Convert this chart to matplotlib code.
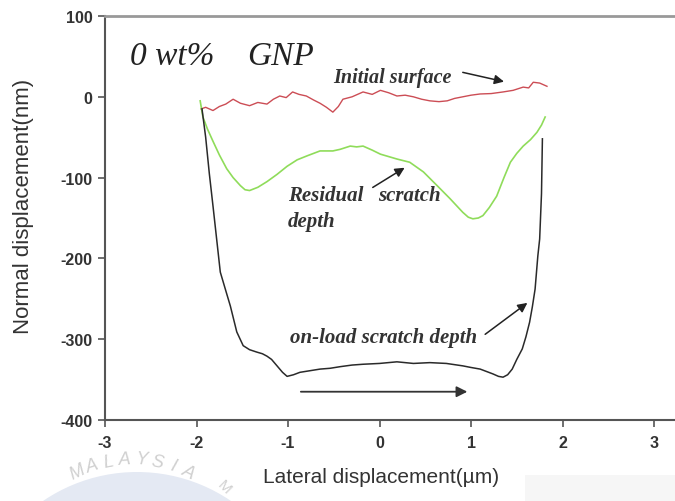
import numpy as np
import matplotlib.pyplot as plt
from matplotlib.patches import Ellipse, Rectangle

# curve data (x in um, y in nm)
x_init = [-1.95, -1.90, -1.82, -1.75, -1.68, -1.60, -1.52, -1.42, -1.33, -1.23, -1.16, -1.09,
          -1.02, -0.95, -0.88, -0.80, -0.72, -0.65, -0.58, -0.51, -0.45, -0.40, -0.30, -0.18,
          -0.08, 0.01, 0.10, 0.19, 0.28, 0.37, 0.46, 0.55, 0.65, 0.74, 0.82, 0.91, 1.00,
          1.10, 1.22, 1.35, 1.46, 1.57, 1.63, 1.68, 1.75, 1.83]
y_init = [-15, -13, -17, -12, -9, -3, -8, -11, -7, -9, -3, 1,
          -1, 6, 3, 1, -4, -8, -13, -19, -12, -3, 0, 6,
          3, 8, 5, 1, 2, 0, -3, -5, -6, -5, -2, 0, 2,
          3.5, 4, 6, 8, 12, 11, 18, 17, 13]

x_resid = [-1.96, -1.93, -1.88, -1.82, -1.75, -1.67, -1.60, -1.52, -1.47, -1.42, -1.33, -1.23,
           -1.12, -1.01, -0.90, -0.79, -0.65, -0.51, -0.43, -0.32, -0.25, -0.18, -0.08, 0.01,
           0.10, 0.19, 0.33, 0.48, 0.63, 0.77, 0.91, 0.97, 1.02, 1.08, 1.13, 1.20, 1.28,
           1.36, 1.43, 1.50, 1.57, 1.65, 1.72, 1.77, 1.81]
y_resid = [-5, -25, -40, -55, -72, -89, -100, -110, -115, -116, -112, -105,
           -96, -86, -78, -73, -67, -67, -65, -61, -62, -61, -66, -71,
           -74, -77, -81, -93, -110, -126, -143, -149, -151, -150, -147, -137, -123,
           -100, -81, -70, -61, -53, -44, -35, -25]

x_load = [-1.94, -1.90, -1.86, -1.82, -1.78, -1.74, -1.68, -1.63, -1.56, -1.49, -1.42, -1.34,
          -1.28, -1.23, -1.18, -1.12, -1.06, -1.01, -0.94, -0.87, -0.76, -0.65, -0.54, -0.43,
          -0.30, -0.18, 0.00, 0.19, 0.37, 0.55, 0.73, 0.91, 1.00, 1.10, 1.17, 1.24, 1.30,
          1.35, 1.40, 1.45, 1.50, 1.56, 1.60, 1.64, 1.67, 1.70, 1.73, 1.75, 1.77, 1.78]
y_load = [-15, -50, -95, -135, -176, -217, -240, -259, -291, -308, -313, -316,
          -318, -321, -325, -333, -341, -346, -344, -341, -339, -337, -336, -334,
          -332, -331, -330, -328, -330, -329, -330, -333, -335, -337, -340, -343, -346,
          -347, -344, -337, -325, -312, -297, -279, -260, -238, -197, -176, -120, -52]

xticks = [-3, -2, -1, 0, 1, 2, 3]
yticks = [100, 0, -100, -200, -300, -400]

plt.rcParams['font.family'] = 'Liberation Sans'
plt.rcParams['axes.unicode_minus'] = False

fig = plt.figure(figsize=(6.75, 5.02), dpi=100)

# faint watermark at the bottom left (drawn behind everything)
fig.patches.append(Ellipse((137/675, 1 - 640/502), 334/675, 334/502, transform=fig.transFigure,
                           facecolor='#e4e9f3', edgecolor='none', zorder=0))
fig.patches.append(Rectangle((525/675, 0), 150/675, 26/502, transform=fig.transFigure,
                             facecolor='#f6f6f6', edgecolor='none', zorder=0))
cx, cy, r = 133, 587, 127
for i, ch in enumerate('MALAYSIA'):
    th = np.deg2rad(116 - i * 7.4)
    px = cx + r * np.cos(th)
    py = cy - r * np.sin(th)
    fig.text(px/675, 1 - py/502, ch, fontsize=13, color='#d0d0d0', ha='center', va='center',
             rotation=np.rad2deg(th) - 90, fontstyle='italic')
fig.text(224/675, 1 - 488/502, 'M', fontsize=11, color='#d0d0d0', ha='center', va='center',
         rotation=-45)

ax = fig.add_axes([105/675, 1 - 421/502, 576.5/675, 404/502])
ax.patch.set_alpha(0)

ax.plot(x_init, y_init, color='#cc4d55', lw=1.0)
ax.plot(x_resid, y_resid, color='#8fdc5a', lw=1.2)
ax.plot(x_load, y_load, color='#2a2a2a', lw=1.1)

ax.set_xlim(-3, 3.3)
ax.set_ylim(-400, 100)
ax.set_xticks(xticks)
ax.set_yticks(yticks)
ax.tick_params(direction='out', length=5, width=1.2, colors='#555555',
               labelcolor='#333333', labelsize=11.5)
ax.tick_params(axis='x', pad=6)
ax.tick_params(axis='y', pad=4)
for lab in ax.get_xticklabels() + ax.get_yticklabels():
    lab.set_fontweight('bold')
for s in ['left', 'bottom']:
    ax.spines[s].set_color('#555555')
    ax.spines[s].set_linewidth(1.5)
ax.spines['top'].set_color('#999999')
ax.spines['top'].set_linewidth(2)
ax.spines['right'].set_visible(False)

fig.text(24/675, 1 - 206/502, 'Normal displacement(nm)', fontsize=16, color='#333333',
         ha='center', va='center', rotation=90)
fig.text(381/675, 1 - 478/502, 'Lateral displacement(\u00b5m)', fontsize=15,
         color='#333333', ha='center', va='center')

serif = 'Liberation Serif'
ax.text(-2.73, 41, '0 wt%', family=serif, style='italic', fontsize=24, color='#222222')
ax.text(-1.45, 41, 'GNP', family=serif, style='italic', fontsize=24, color='#222222')
ax.text(-0.51, 24, 'Initial surface', family=serif, style='italic', weight='bold',
        fontsize=14.5, color='#333333', va='center')
ax.annotate('', xy=(1.39, 18), xytext=(0.88, 31),
            arrowprops=dict(arrowstyle='-|>', color='#222222', lw=1.1, mutation_scale=14))
ax.text(-1.0, -121, 'Residual', family=serif, style='italic', weight='bold',
        fontsize=15, color='#333333', va='center')
ax.text(-0.02, -121, 'scratch', family=serif, style='italic', weight='bold',
        fontsize=15, color='#333333', va='center')
ax.text(-1.0, -154, 'depth', family=serif, style='italic', weight='bold',
        fontsize=15, color='#333333', va='center')
ax.annotate('', xy=(0.30, -86), xytext=(-0.10, -114),
            arrowprops=dict(arrowstyle='-|>', color='#222222', lw=1.1, mutation_scale=14))
ax.text(-0.98, -297, 'on-load scratch depth', family=serif, style='italic', weight='bold',
        fontsize=15, color='#333333', va='center')
ax.annotate('', xy=(1.64, -253), xytext=(1.13, -296),
            arrowprops=dict(arrowstyle='-|>', color='#222222', lw=1.1, mutation_scale=14))
ax.annotate('', xy=(0.99, -365), xytext=(-0.89, -365),
            arrowprops=dict(arrowstyle='-|>', color='#333333', lw=1.3, mutation_scale=16))

fig.savefig('out.png', dpi=100)
